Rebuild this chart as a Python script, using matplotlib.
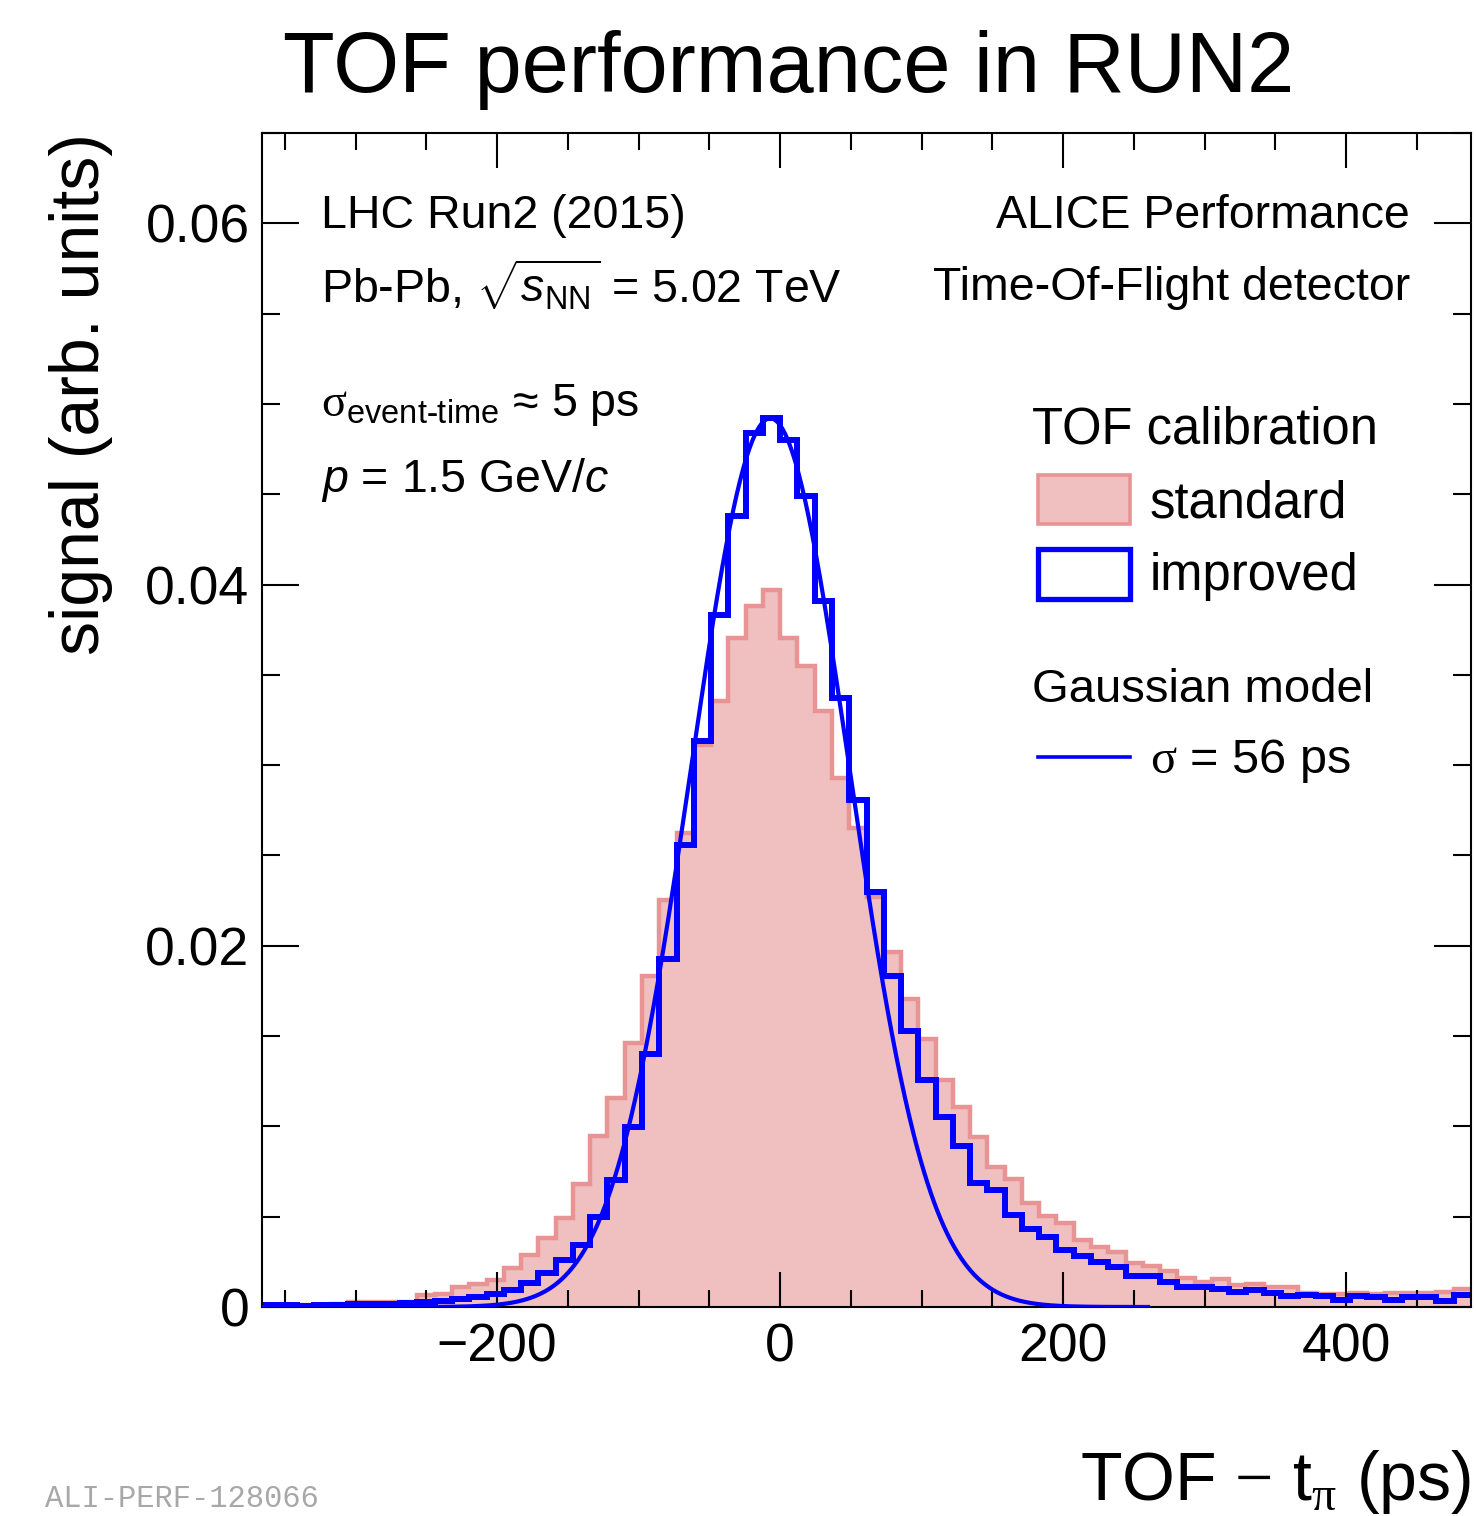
import numpy as np
import matplotlib
matplotlib.use("Agg")
import matplotlib.pyplot as plt
from matplotlib.ticker import MultipleLocator, FuncFormatter
from matplotlib.patches import Rectangle
from matplotlib.lines import Line2D

# ---------------- data ----------------
bin_width = 12.207          # ps
first_bin = -30             # index of first bin edge (in units of bin_width)

standard = [0.0001, 0.0001, 0.0001, 0.00012, 0.00015, 0.0003, 0.0003, 0.0003, 0.0003, 0.00066,
            0.0007, 0.00112, 0.00125, 0.0015, 0.00218, 0.00288, 0.00384, 0.0049, 0.0068, 0.00944,
            0.01155, 0.0146, 0.01832, 0.02252, 0.02624, 0.0311, 0.03354, 0.03704, 0.0388, 0.03968,
            0.03704, 0.03547, 0.03298, 0.02929, 0.02653, 0.02271, 0.01963, 0.01706, 0.01483, 0.01258,
            0.0111, 0.0094, 0.00777, 0.00707, 0.00574, 0.00504, 0.00464, 0.00371, 0.00334, 0.00306,
            0.00245, 0.00225, 0.00198, 0.00159, 0.0014, 0.00153, 0.00122, 0.00125, 0.00112, 0.0011,
            0.00079, 0.0007, 0.0007, 0.00075, 0.0007, 0.0008, 0.00075, 0.0008, 0.00085, 0.00098]

improved = [0.0001, 0.0001, 0.00008, 0.0001, 0.0001, 0.00015, 0.00015, 0.00018, 0.00022, 0.00028,
            0.00033, 0.00042, 0.00057, 0.0007, 0.00094, 0.00133, 0.0019, 0.00258, 0.00344, 0.005,
            0.00702, 0.00996, 0.01403, 0.01928, 0.02557, 0.03132, 0.03834, 0.04378, 0.0484, 0.04923,
            0.04803, 0.04489, 0.03907, 0.03372, 0.02805, 0.023, 0.01833, 0.0153, 0.01258, 0.01051,
            0.00892, 0.00689, 0.00648, 0.0051, 0.0043, 0.00386, 0.00316, 0.00283, 0.00251, 0.00223,
            0.00172, 0.00172, 0.0014, 0.00109, 0.00109, 0.00098, 0.00085, 0.00092, 0.00079, 0.00061,
            0.00066, 0.00059, 0.00039, 0.00061, 0.00055, 0.00039, 0.00053, 0.00053, 0.00035, 0.00066]

gauss_amp = 0.0492
gauss_mean = -7.0
gauss_sigma = 56.0
gauss_range = (-366.2, 260.0)

x_major, x_minor = 200, 50
y_major, y_minor = 0.02, 0.005
y_max = 0.065

# ---------------- style ----------------
plt.rcParams['font.family'] = ['Liberation Sans', 'DejaVu Sans']
plt.rcParams['mathtext.fontset'] = 'custom'
plt.rcParams['mathtext.rm'] = 'Liberation Serif'
plt.rcParams['mathtext.it'] = 'Liberation Sans:italic'
plt.rcParams['mathtext.sf'] = 'Liberation Sans'
plt.rcParams['mathtext.bf'] = 'Liberation Sans:bold'

red_fill = '#f0bfbf'
red_line = '#e89494'
blue = '#0000ff'

W, H = 1476, 1516
fig = plt.figure(figsize=(W / 100, H / 100), dpi=100)


def fx(x):
    return x / W


def fy(y):
    return 1 - y / H


ax = fig.add_axes([fx(262), fy(1307), (1471 - 262) / W, (1307 - 133) / H])

edges = (first_bin + np.arange(len(standard) + 1)) * bin_width
ax.stairs(standard, edges, fill=True, facecolor=red_fill, edgecolor='none', zorder=1)
ax.stairs(standard, edges, color=red_line, lw=3.2, zorder=1.5, baseline=None)
ax.stairs(improved, edges, color=blue, lw=4.3, zorder=2, baseline=None)
xg = np.linspace(gauss_range[0], gauss_range[1], 800)
ax.plot(xg, gauss_amp * np.exp(-0.5 * ((xg - gauss_mean) / gauss_sigma) ** 2),
        color=blue, lw=3.0, zorder=3)

ax.set_xlim(edges[0], edges[-1])
ax.set_ylim(0, y_max)

ax.xaxis.set_major_locator(MultipleLocator(x_major))
ax.xaxis.set_minor_locator(MultipleLocator(x_minor))
ax.yaxis.set_major_locator(MultipleLocator(y_major))
ax.yaxis.set_minor_locator(MultipleLocator(y_minor))
ax.xaxis.set_major_formatter(FuncFormatter(lambda v, p: f'{v:.0f}'.replace('-', '\u2212')))
ax.yaxis.set_major_formatter(FuncFormatter(lambda v, p: '0' if abs(v) < 1e-9 else f'{v:.2f}'))

ax.tick_params(which='both', direction='in', top=True, right=True, width=1.5,
               colors='black', labelsize=38.5)
ax.tick_params(axis='x', which='major', length=25, pad=11)
ax.tick_params(axis='x', which='minor', length=12)
ax.tick_params(axis='y', which='major', length=26.5, pad=9)
ax.tick_params(axis='y', which='minor', length=13)
for s in ax.spines.values():
    s.set_linewidth(1.5)

# ---------------- titles ----------------
fig.text(fx(789), fy(92), 'TOF performance in RUN2', fontsize=61, ha='center', va='baseline')
fig.text(fx(99), fy(133), 'signal (arb. units)', fontsize=49, rotation=90,
         rotation_mode='anchor', ha='right', va='baseline')
fig.text(fx(1471), fy(1500), r'TOF $-$ t$_{\mathrm{\pi}}$ (ps)', fontsize=49,
         ha='right', va='baseline')

# ---------------- annotations ----------------
fs = 33.5
fig.text(fx(321), fy(228), 'LHC Run2 (2015)', fontsize=fs, va='baseline')
fig.text(fx(321), fy(303), r'Pb-Pb, $\sqrt{s_{\mathsf{NN}}}$ = 5.02 TeV', fontsize=fs, va='baseline')
fig.text(fx(321), fy(416), r'$\mathrm{\sigma}_{\mathsf{event}\text{-}\mathsf{time}}$' + ' \u2248 5 ps',
         fontsize=fs, va='baseline')
fig.text(fx(321), fy(492), r'$p$ = 1.5 GeV/$c$', fontsize=fs, va='baseline')
fig.text(fx(1410), fy(228), 'ALICE Performance', fontsize=fs, ha='right', va='baseline')
fig.text(fx(1410), fy(300), 'Time-Of-Flight detector', fontsize=fs, ha='right', va='baseline')

# ---------------- legend ----------------
lfs = 36.5
fig.text(fx(1032), fy(443), 'TOF calibration', fontsize=lfs, va='baseline')
fig.text(fx(1150), fy(518), 'standard', fontsize=lfs, va='baseline')
fig.text(fx(1150), fy(590), 'improved', fontsize=lfs, va='baseline')
fig.text(fx(1032), fy(702), 'Gaussian model', fontsize=34, va='baseline')
fig.text(fx(1150), fy(773), r'$\mathrm{\sigma}$ = 56 ps', fontsize=35, va='baseline')

fig.add_artist(Rectangle((fx(1038), fy(524)), (1130 - 1038) / W, (524 - 475) / H,
                         facecolor=red_fill, edgecolor=red_line, lw=2.6,
                         transform=fig.transFigure))
fig.add_artist(Rectangle((fx(1038), fy(599)), (1130 - 1038) / W, (599 - 549) / H,
                         facecolor='white', edgecolor=blue, lw=3.8,
                         transform=fig.transFigure))
fig.add_artist(Line2D([fx(1038), fx(1130)], [fy(757), fy(757)], color=blue, lw=2.6,
                      transform=fig.transFigure))

# ---------------- watermark ----------------
fig.text(fx(45), fy(1507), 'ALI-PERF-128066', family='Liberation Mono', color='#a8a8a8',
         fontsize=22, va='baseline')

fig.savefig('out.png', dpi=100)
